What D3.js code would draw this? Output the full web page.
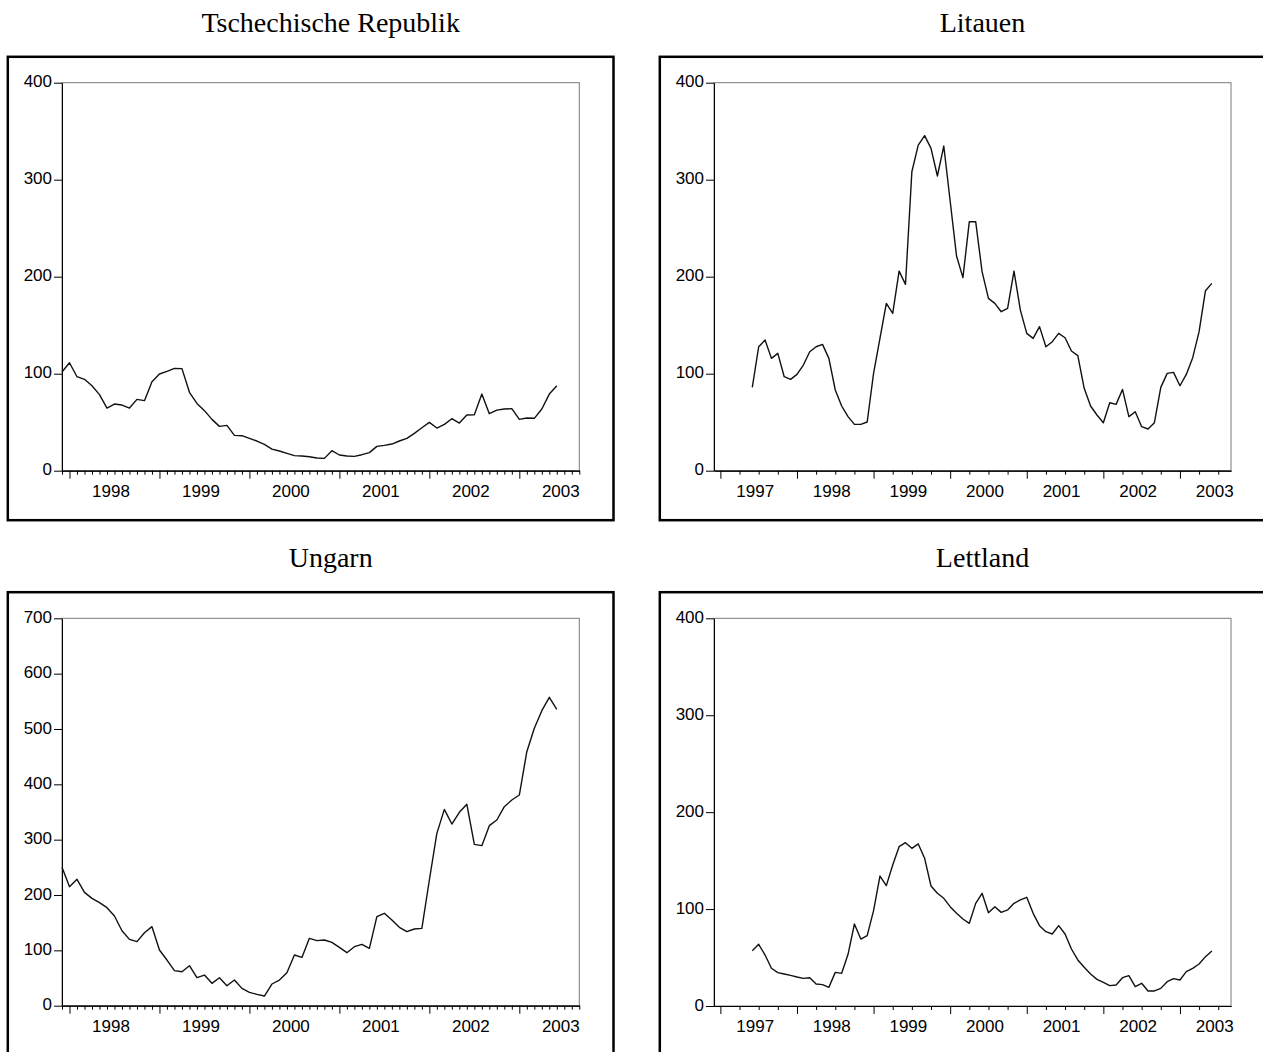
<!DOCTYPE html>
<html>
<head>
<meta charset="utf-8">
<script src="https://cdn.jsdelivr.net/npm/d3@7"></script>
<style>
  body { margin: 0; background: #fff; }
  svg { display: block; }
  .title { font-family: "Liberation Serif", "Times New Roman", serif; font-size: 28px; }
  .tick text { font-family: "Liberation Sans", Arial, sans-serif; font-size: 17px; fill: #000; }
</style>
</head>
<body>
<div class="chart"></div>
<script>
// monthly series
// Czech Republic & Hungary: Dec 1997 .. Jun 2003
const czechValues = [101.7, 111.3, 96.9, 94.2, 87.6, 78.4, 64.6, 68.7, 67.7, 64.6,
  73.5, 72.2, 91.8, 99.7, 102.4, 105.5, 105.2, 80.8, 69.4, 61.9,
  52.9, 45.7, 46.7, 36.4, 36.1, 33.3, 30.6, 27.1, 22.3, 20.3,
  17.9, 15.5, 15.1, 14.4, 13.1, 12.7, 20.6, 16.2, 15.1, 14.8,
  16.5, 18.6, 25.1, 26.1, 27.5, 30.6, 33.3, 38.5, 44.3, 49.8,
  44.0, 47.8, 53.6, 49.1, 57.4, 57.7, 79.0, 58.8, 62.5, 63.6,
  63.9, 52.9, 54.3, 54.0, 63.6, 79.0, 87.6];
const hungaryValues = [250, 215, 228.3, 204.8, 194, 186.1, 177.1, 162, 135.5, 119.9,
  115.7, 131.9, 142.8, 100.6, 82.5, 63.3, 61.4, 72.3, 50.6, 55.4,
  40.4, 50.6, 36.1, 46.4, 31.3, 24.1, 20.5, 17.5, 39.2, 46.4,
  59.6, 91.6, 87.3, 121.7, 117.5, 118.7, 114.5, 105.4, 95.8, 106.6,
  110.8, 103.6, 160.8, 166.9, 154.8, 141.6, 133.7, 138.6, 139.8, 227.1,
  311.4, 354.8, 328.3, 349.4, 363.9, 291.6, 289.2, 325.3, 335.5, 359.6,
  371.7, 380.7, 459, 501.2, 533.1, 557.2, 535.5];
// Lithuania & Latvia: Jun 1997 .. Jun 2003
const lithuaniaValues = [85.9, 127.8, 134.7, 115.8, 121.0, 96.9, 94.2, 99.3, 108.9, 122.7,
  127.8, 130.2, 115.8, 83.2, 66.7, 55.7, 47.8, 47.8, 50.2, 100.3,
  136.4, 172.5, 162.2, 205.8, 192.1, 308.2, 335.7, 345.4, 332.3, 303.8,
  334.7, 278, 221.3, 199.0, 256.7, 256.7, 205.2, 177.7, 172.5, 163.9,
  167.4, 205.8, 165.6, 141.6, 136.4, 148.5, 127.8, 133.0, 141.6, 137.1,
  123.4, 118.6, 84.9, 66.7, 57.4, 49.5, 70.1, 68.4, 83.8, 55.7,
  60.8, 45.4, 43.0, 49.5, 85.9, 100.3, 101.4, 87.6, 99.3, 116.5,
  143.3, 185.6, 193.1];
const latviaValues = [57.1, 63.6, 52.6, 38.9, 34.4, 33.0, 31.6, 29.9, 28.5, 29.2,
  22.7, 22.0, 19.3, 34.7, 33.7, 53.3, 84.6, 69.1, 72.6, 98.4,
  134.1, 124.2, 145.5, 164.4, 168.5, 162.7, 167.2, 152.4, 123.8, 116.3,
  111.1, 102.5, 95.6, 89.8, 85.3, 105.9, 116.3, 96.3, 102.5, 96.6,
  99.1, 105.9, 109.4, 112.1, 95.6, 82.9, 76.7, 74.3, 82.9, 74.3,
  58.8, 47.5, 39.9, 33.0, 27.5, 24.4, 21.0, 21.7, 29.2, 31.3,
  19.9, 23.4, 15.5, 15.5, 18.2, 25.1, 28.2, 26.8, 35.4, 38.9,
  43.3, 50.9, 56.7];

const yearsFrom1998 = [1998, 1999, 2000, 2001, 2002, 2003];
const yearsFrom1997 = [1997, 1998, 1999, 2000, 2001, 2002, 2003];
const yTicks400 = [0, 100, 200, 300, 400];
const yTicks700 = [0, 100, 200, 300, 400, 500, 600, 700];
const titles = ["Tschechische Republik", "Litauen", "Ungarn", "Lettland"];

const W = 1263, H = 1052;
const svg = d3.select(".chart")
  .append("svg")
  .attr("width", W)
  .attr("height", H);

svg.append("rect").attr("width", W).attr("height", H).attr("fill", "#fff");

// month index 0 = January of the first labelled year
const panels = [
  { title: titles[0], values: czechValues, start: -1, years: yearsFrom1998, minorStep: 1,
    yTicks: yTicks400, frame: [7.8, 56.8, 613.5, 520.2], plot: [62, 82.7, 579.3, 470.7], domain: [-1, 68] },
  { title: titles[1], values: lithuaniaValues, start: 5, years: yearsFrom1997, minorStep: 3,
    yTicks: yTicks400, frame: [659.8, 56.8, 1290, 520.2], plot: [714, 82.7, 1231, 470.7], domain: [-1, 80] },
  { title: titles[2], values: hungaryValues, start: -1, years: yearsFrom1998, minorStep: 1,
    yTicks: yTicks700, frame: [7.8, 592.2, 613.5, 1090], plot: [62, 618.3, 579.3, 1005.7], domain: [-1, 68] },
  { title: titles[3], values: latviaValues, start: 5, years: yearsFrom1997, minorStep: 3,
    yTicks: yTicks400, frame: [659.8, 592.2, 1290, 1090], plot: [714, 618.3, 1231, 1006], domain: [-1, 80] }
];

panels.forEach(p => {
  const [fx0, fy0, fx1, fy1] = p.frame;
  const [px0, py0, px1, py1] = p.plot;

  // outer frame
  svg.append("rect")
    .attr("x", fx0).attr("y", fy0)
    .attr("width", fx1 - fx0).attr("height", fy1 - fy0)
    .attr("fill", "none")
    .attr("stroke", "#000")
    .attr("stroke-width", 2.5);

  // title
  svg.append("text")
    .attr("class", "title")
    .attr("x", (px0 + px1) / 2 + 10)
    .attr("y", fy0 - 25)
    .attr("text-anchor", "middle")
    .text(p.title);

  const x = d3.scaleLinear().domain(p.domain).range([px0, px1]);
  const y = d3.scaleLinear().domain([0, d3.max(p.yTicks)]).range([py1, py0]);

  // plot box (grey top / right)
  svg.append("rect")
    .attr("x", px0).attr("y", py0)
    .attr("width", px1 - px0).attr("height", py1 - py0)
    .attr("fill", "none")
    .attr("stroke", "#7a7a7a")
    .attr("stroke-width", 1);

  // Y axis
  const yAxis = svg.append("g")
    .attr("transform", `translate(${px0},0)`)
    .call(d3.axisLeft(y).tickValues(p.yTicks).tickSize(8).tickSizeOuter(0).tickPadding(2));
  yAxis.selectAll("text").attr("dy", "0.24em");

  // X axis: minor ticks
  const nYears = p.years.length;
  const lastIdx = Math.floor(p.domain[1]);
  const minor = d3.range(p.domain[0] < 0 && p.minorStep === 1 ? -1 : 0, lastIdx + 1)
    .filter(i => ((i % p.minorStep) + p.minorStep) % p.minorStep === 0 && i % 12 !== 0);
  svg.append("g")
    .attr("transform", `translate(0,${py1})`)
    .call(d3.axisBottom(x).tickValues(minor).tickSize(4).tickSizeOuter(0).tickFormat(""));

  // major ticks at January
  const major = d3.range(nYears).map(k => k * 12);
  svg.append("g")
    .attr("transform", `translate(0,${py1})`)
    .call(d3.axisBottom(x).tickValues(major).tickSize(8).tickSizeOuter(0).tickFormat(""));

  // year labels in the middle of each year
  const labelAxis = svg.append("g")
    .attr("transform", `translate(-4,${py1})`)
    .call(d3.axisBottom(x).tickValues(major.map(m => m + 6)).tickSize(0).tickPadding(14)
      .tickFormat((d, i) => p.years[i]));
  labelAxis.select(".domain").remove();

  svg.selectAll(".domain").attr("stroke", "#000");

  // series
  const pts = p.values.map((v, i) => ({ m: p.start + i, v }));
  svg.append("path")
    .datum(pts)
    .attr("fill", "none")
    .attr("stroke", "#111")
    .attr("stroke-width", 1.4)
    .attr("stroke-linejoin", "round")
    .attr("d", d3.line().x(d => x(d.m)).y(d => y(d.v)));
});
</script>
</body>
</html>
